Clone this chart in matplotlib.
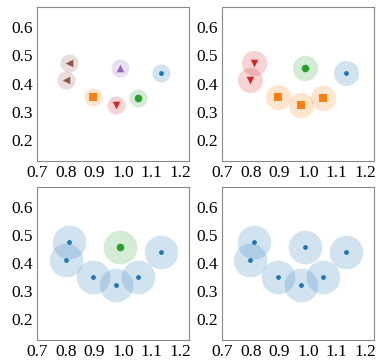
import matplotlib.pyplot as plt

plt.rcParams['font.family'] = ['Liberation Serif', 'DejaVu Serif']

# point coordinates (same 7 points in every panel)
xs = [1.133, 1.053, 0.975, 0.894, 0.991, 0.810, 0.798]
ys = [0.438, 0.350, 0.323, 0.352, 0.456, 0.474, 0.411]

# colour / marker per point in each panel
colors_tl = ['C0', 'C2', 'C3', 'C1', 'C4', 'C5', 'C5']
marks_tl = ['.', 'o', 'v', 's', '^', '<', '<']
colors_tr = ['C0', 'C1', 'C1', 'C1', 'C2', 'C3', 'C3']
marks_tr = ['.', 's', 's', 's', 'o', 'v', 'v']
colors_bl = ['C0', 'C0', 'C0', 'C0', 'C2', 'C0', 'C0']
marks_bl = ['.', '.', '.', '.', 'o', '.', '.']
colors_br = ['C0'] * 7
marks_br = ['.'] * 7

panels = [
    (colors_tl, marks_tl, 170, [0.097, 0.554, 0.398, 0.427]),
    (colors_tr, marks_tr, 330, [0.581, 0.554, 0.398, 0.427]),
    (colors_bl, marks_bl, 590, [0.097, 0.058, 0.398, 0.424]),
    (colors_br, marks_br, 590, [0.581, 0.058, 0.398, 0.424]),
]

fig = plt.figure(figsize=(3.82, 3.61), dpi=100)
for colors, marks, big, rect in panels:
    ax = fig.add_axes(rect)
    for x, y, c, m in zip(xs, ys, colors, marks):
        ax.scatter(x, y, s=big, color=c, alpha=0.2, linewidths=0)
        ms = 30 if m != '.' else 12
        ax.scatter(x, y, s=ms, color=c, marker=m if m != '.' else 'o', linewidths=0)
    ax.set_xlim(0.698, 1.232)
    ax.set_ylim(0.125, 0.672)
    ax.set_xticks([0.7, 0.8, 0.9, 1.0, 1.1, 1.2])
    ax.set_yticks([0.2, 0.3, 0.4, 0.5, 0.6])
    ax.tick_params(length=0, pad=3, labelsize=12.5)
    for sp in ax.spines.values():
        sp.set_color('#888888')

plt.savefig('out.png')
